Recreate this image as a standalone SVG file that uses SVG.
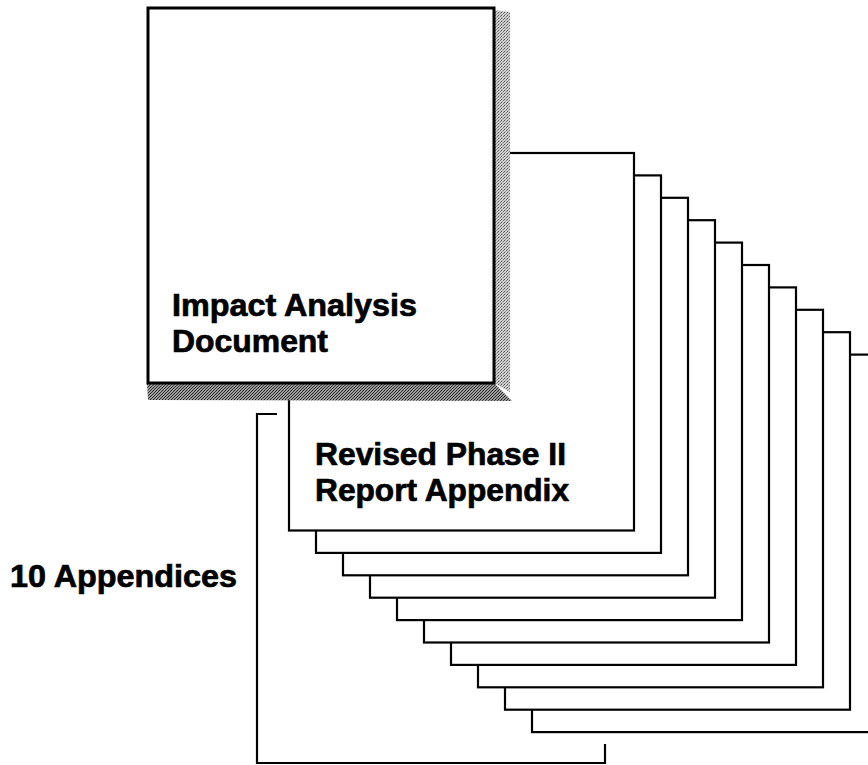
<svg xmlns="http://www.w3.org/2000/svg" width="868" height="765" viewBox="0 0 868 765">
  <defs>
    <pattern id="dotsDark" width="3" height="3" patternUnits="userSpaceOnUse">
      <rect width="3" height="3" fill="#9a9a9a"/>
      <rect x="0" y="0" width="1" height="1" fill="#222"/>
      <rect x="2" y="1" width="1" height="1" fill="#333"/>
      <rect x="1" y="2" width="1" height="1" fill="#333"/>
    </pattern>
    <pattern id="dotsLight" width="3" height="3" patternUnits="userSpaceOnUse">
      <rect width="3" height="3" fill="#cfcfcf"/>
      <rect x="0" y="0" width="1" height="1" fill="#555"/>
      <rect x="2" y="1" width="1" height="1" fill="#777"/>
      <rect x="1" y="2" width="1" height="1" fill="#999"/>
    </pattern>
  </defs>
  <style>
    .page { fill: #ffffff; stroke: #000000; stroke-width: 2.2; }
    .main { fill: #ffffff; stroke: #000000; stroke-width: 3; }
    .label { font-family: "Liberation Sans", Arial, Helvetica, sans-serif; font-weight: bold; font-size: 31px; fill: #000000; stroke: #000000; stroke-width: 0.7; }
    .bracket { fill: none; stroke: #000000; stroke-width: 2.2; }
  </style>
  <rect width="868" height="765" fill="#ffffff"/>

  <g id="appendix-10"><rect class="page" x="532" y="354.6" width="345" height="377.5"/></g>
  <g id="appendix-9"><rect class="page" x="505" y="332.2" width="345" height="377.5"/></g>
  <g id="appendix-8"><rect class="page" x="478" y="309.8" width="345" height="377.5"/></g>
  <g id="appendix-7"><rect class="page" x="451" y="287.4" width="345" height="377.5"/></g>
  <g id="appendix-6"><rect class="page" x="424" y="265" width="345" height="377.5"/></g>
  <g id="appendix-5"><rect class="page" x="397" y="242.6" width="345" height="377.5"/></g>
  <g id="appendix-4"><rect class="page" x="370" y="220.2" width="345" height="377.5"/></g>
  <g id="appendix-3"><rect class="page" x="343" y="197.8" width="345" height="377.5"/></g>
  <g id="appendix-2"><rect class="page" x="316" y="175.4" width="345" height="377.5"/></g>
  <g id="appendix-1">
    <rect class="page" x="289" y="153" width="345" height="377.5"/>
    <text class="label" x="315" y="465" textLength="251" lengthAdjust="spacingAndGlyphs">Revised Phase II</text>
    <text class="label" x="315" y="501" textLength="254" lengthAdjust="spacingAndGlyphs">Report Appendix</text>
  </g>

  <g id="impact-analysis-document">
    <polygon points="494,10 510,12 510,392 494,383" fill="url(#dotsLight)"/>
    <polygon points="147,383 494,383 512,401 148,400" fill="url(#dotsDark)"/>
    <rect class="main" x="148" y="8" width="346" height="375"/>
    <text class="label" x="172" y="316" textLength="245" lengthAdjust="spacingAndGlyphs">Impact Analysis</text>
    <text class="label" x="172" y="352" textLength="156" lengthAdjust="spacingAndGlyphs">Document</text>
  </g>

  <g id="connectors">
    <polyline class="bracket" points="277,414 257,414 257,763 605,763 605,744"/>
  </g>

  <g id="appendices-label">
    <text class="label" x="10" y="587" textLength="227" lengthAdjust="spacingAndGlyphs">10 Appendices</text>
  </g>
</svg>
